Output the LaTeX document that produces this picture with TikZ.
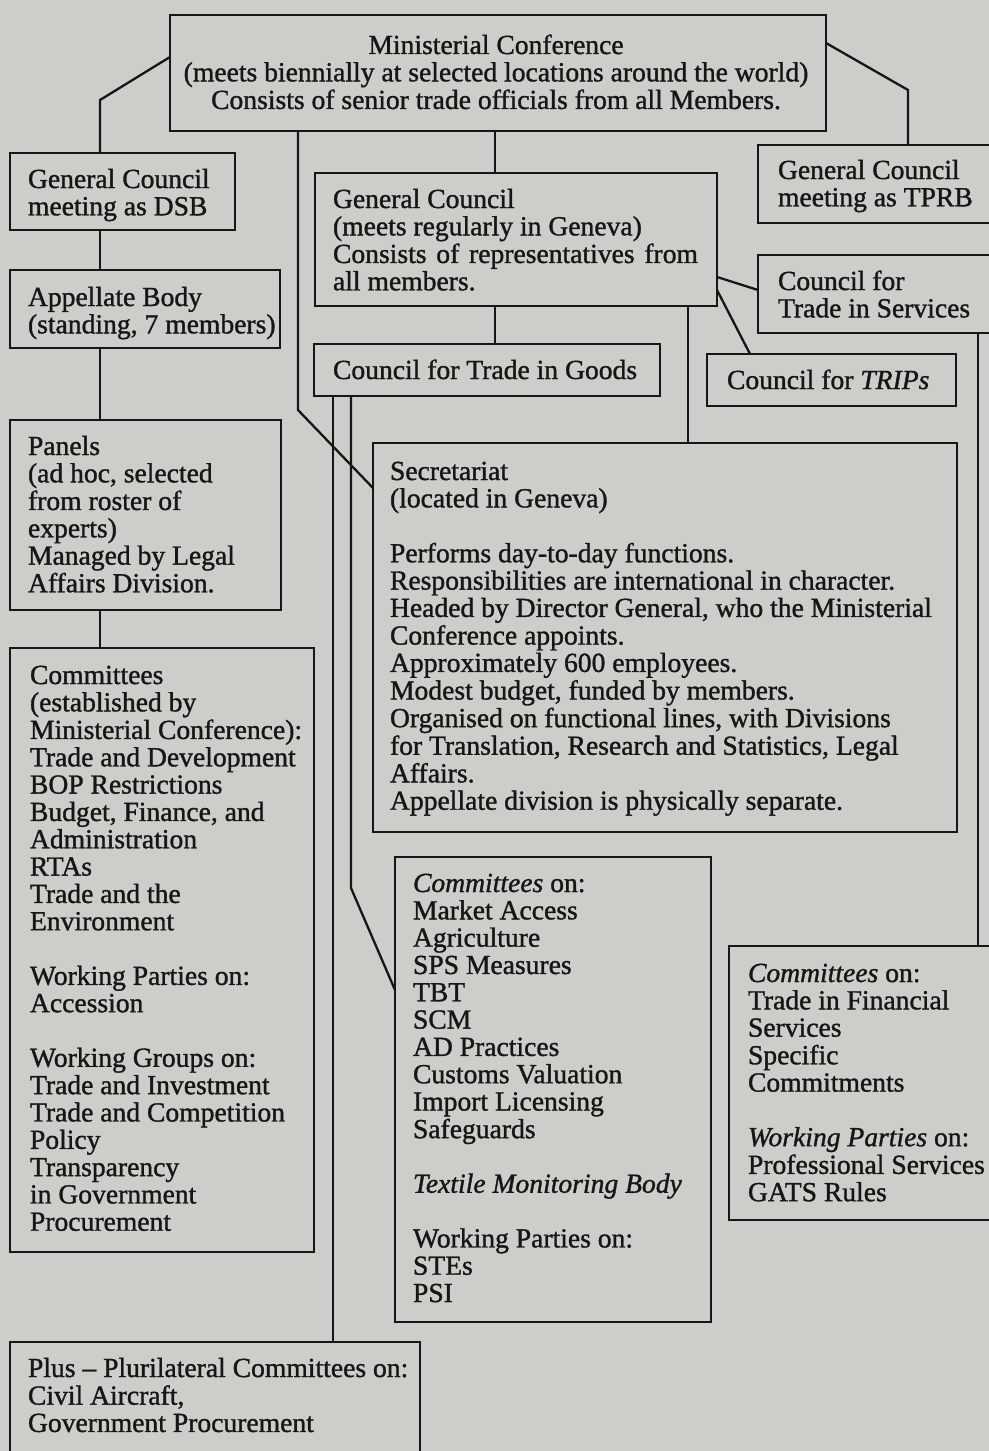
\documentclass[tikz,border=0pt]{standalone}
\usepackage{fontspec}
\setmainfont{Liberation Serif}[UprightFeatures={FakeBold=1.2},ItalicFeatures={FakeBold=1.2}]
\definecolor{paper}{RGB}{203,206,201}
\definecolor{ink}{RGB}{22,22,22}
\tikzset{
  frame/.style={draw=ink, line width=1.15pt, inner sep=0pt, outer sep=0pt, anchor=north west},
  link/.style={draw=ink, line width=1.15pt, line join=miter},
  txt/.style={text=ink, inner sep=0pt, outer sep=0pt, anchor=base west,
              font=\fontsize{13.8}{13.65}\selectfont},
}
% a framed box given by its top-left and bottom-right corners (in px)
\newcommand\panel[5]{\node[frame, minimum width={(#4-#2)*0.5pt},
  minimum height={(#5-#3)*0.5pt}] (#1) at (#2,#3) {};}
% lines of text, aligned on the baseline of the first line
\newcommand\rows[2][l]{\begin{tabular}[t]{@{}#1@{}}#2\end{tabular}}

\begin{document}
\begin{tikzpicture}[x=0.5pt,y=-0.5pt]
\useasboundingbox (0,0) rectangle (989,1451);
\fill[paper] (0,0) rectangle (989,1451);
\clip (0,0) rectangle (989,1451);

% ---------- boxes ----------
\panel{mc}{170}{15}{826}{131}
\panel{dsb}{10}{153}{235}{230}
\panel{app}{10}{270}{280}{348}
\panel{pan}{10}{420}{281}{610}
\panel{com}{10}{648}{314}{1252}
\panel{gc}{315}{173}{717}{306}
\panel{tprb}{758}{145}{1000}{223}
\panel{cts}{758}{255}{1000}{333}
\panel{trips}{707}{354}{956}{406}
\panel{ctg}{314}{344}{660}{396}
\panel{sec}{373}{443}{957}{832}
\panel{goods}{395}{857}{711}{1322}
\panel{svc}{729}{946}{1000}{1220}
\panel{plus}{10}{1342}{420}{1470}

% ---------- texts ----------
\node[txt, anchor=base] (mc-t) at (496,54) {\rows[c]{Ministerial Conference\\
  (meets biennially at selected locations around the world)\\
  Consists of senior trade officials from all Members.}};
\node[txt] (dsb-t) at (28,188) {\rows{General Council\\ meeting as DSB}};
\node[txt] (app-t) at (28,306) {\rows{Appellate Body\\ (standing, 7 members)}};
\node[txt] (pan-t) at (28,455) {\rows{Panels\\ (ad hoc, selected\\ from roster of\\
  experts)\\ Managed by Legal\\ Affairs Division.}};
\node[txt] (com-t) at (30,684) {\rows{Committees\\ (established by\\
  Ministerial Conference):\\ Trade and Development\\ BOP Restrictions\\
  Budget, Finance, and\\ Administration\\ RTAs\\ Trade and the\\ Environment\\ \\
  Working Parties on:\\ Accession\\ \\ Working Groups on:\\ Trade and Investment\\
  Trade and Competition\\ Policy\\ Transparency\\ in Government\\ Procurement}};
\node[txt] (gc-t) at (333,208) {\rows{General Council\\ (meets regularly in Geneva)\\
  \makebox[182.5pt][s]{Consists of representatives from}\\ all members.}};
\node[txt] (tprb-t) at (778,179) {\rows{General Council\\ meeting as TPRB}};
\node[txt] (cts-t) at (778,290) {\rows{Council for\\ Trade in Services}};
\node[txt] (trips-t) at (727,389) {Council for \textit{TRIPs}};
\node[txt] (ctg-t) at (333,379) {Council for Trade in Goods};
\node[txt] (sec-t) at (390,480) {\rows{Secretariat\\ (located in Geneva)\\ \\
  Performs day-to-day functions.\\
  Responsibilities are international in character.\\
  Headed by Director General, who the Ministerial\\
  Conference appoints.\\ Approximately 600 employees.\\
  Modest budget, funded by members.\\
  Organised on functional lines, with Divisions\\
  for Translation, Research and Statistics, Legal\\ Affairs.\\
  Appellate division is physically separate.}};
\node[txt] (goods-t) at (413,892) {\rows{\textit{Committees} on:\\ Market Access\\
  Agriculture\\ SPS Measures\\ TBT\\ SCM\\ AD Practices\\ Customs Valuation\\
  Import Licensing\\ Safeguards\\ \\ \textit{Textile Monitoring Body}\\ \\
  Working Parties on:\\ STEs\\ PSI}};
\node[txt] (svc-t) at (748,982) {\rows{\textit{Committees} on:\\ Trade in Financial\\
  Services\\ Specific\\ Commitments\\ \\ \textit{Working Parties} on:\\
  Professional Services\\ GATS Rules}};
\node[txt] (plus-t) at (28,1377) {\rows{Plus -- Plurilateral Committees on:\\
  Civil Aircraft,\\ Government Procurement}};

% ---------- connectors ----------
\draw[link] (mc.west |- 0,57) -- (100,100) -- (dsb.north -| 100,0);
\draw[link] (dsb.south -| 100,0) -- (app.north -| 100,0);
\draw[link] (app.south -| 100,0) -- (pan.north -| 100,0);
\draw[link] (pan.south -| 100,0) -- (com.north -| 100,0);
\draw[link] (mc.south -| 298,0) -- (298,410) -- (sec.west |- 0,488);
\draw[link] (mc.south -| 495,0) -- (gc.north -| 495,0);
\draw[link] (gc.south -| 495,0) -- (ctg.north -| 495,0);
\draw[link] (gc.south -| 688,0) -- (sec.north -| 688,0);
\draw[link] (gc.east |- 0,277) -- (cts.west |- 0,290);
\draw[link] (gc.east |- 0,290) -- (trips.north -| 750,0);
\draw[link] (mc.east |- 0,43) -- (908,90) -- (tprb.north -| 908,0);
\draw[link] (cts.south -| 978,0) -- (svc.north -| 978,0);
\draw[link] (ctg.south -| 333,0) -- (plus.north -| 333,0);
\draw[link] (ctg.south -| 351,0) -- (351,888) -- (goods.west |- 0,990);
\end{tikzpicture}
\end{document}
